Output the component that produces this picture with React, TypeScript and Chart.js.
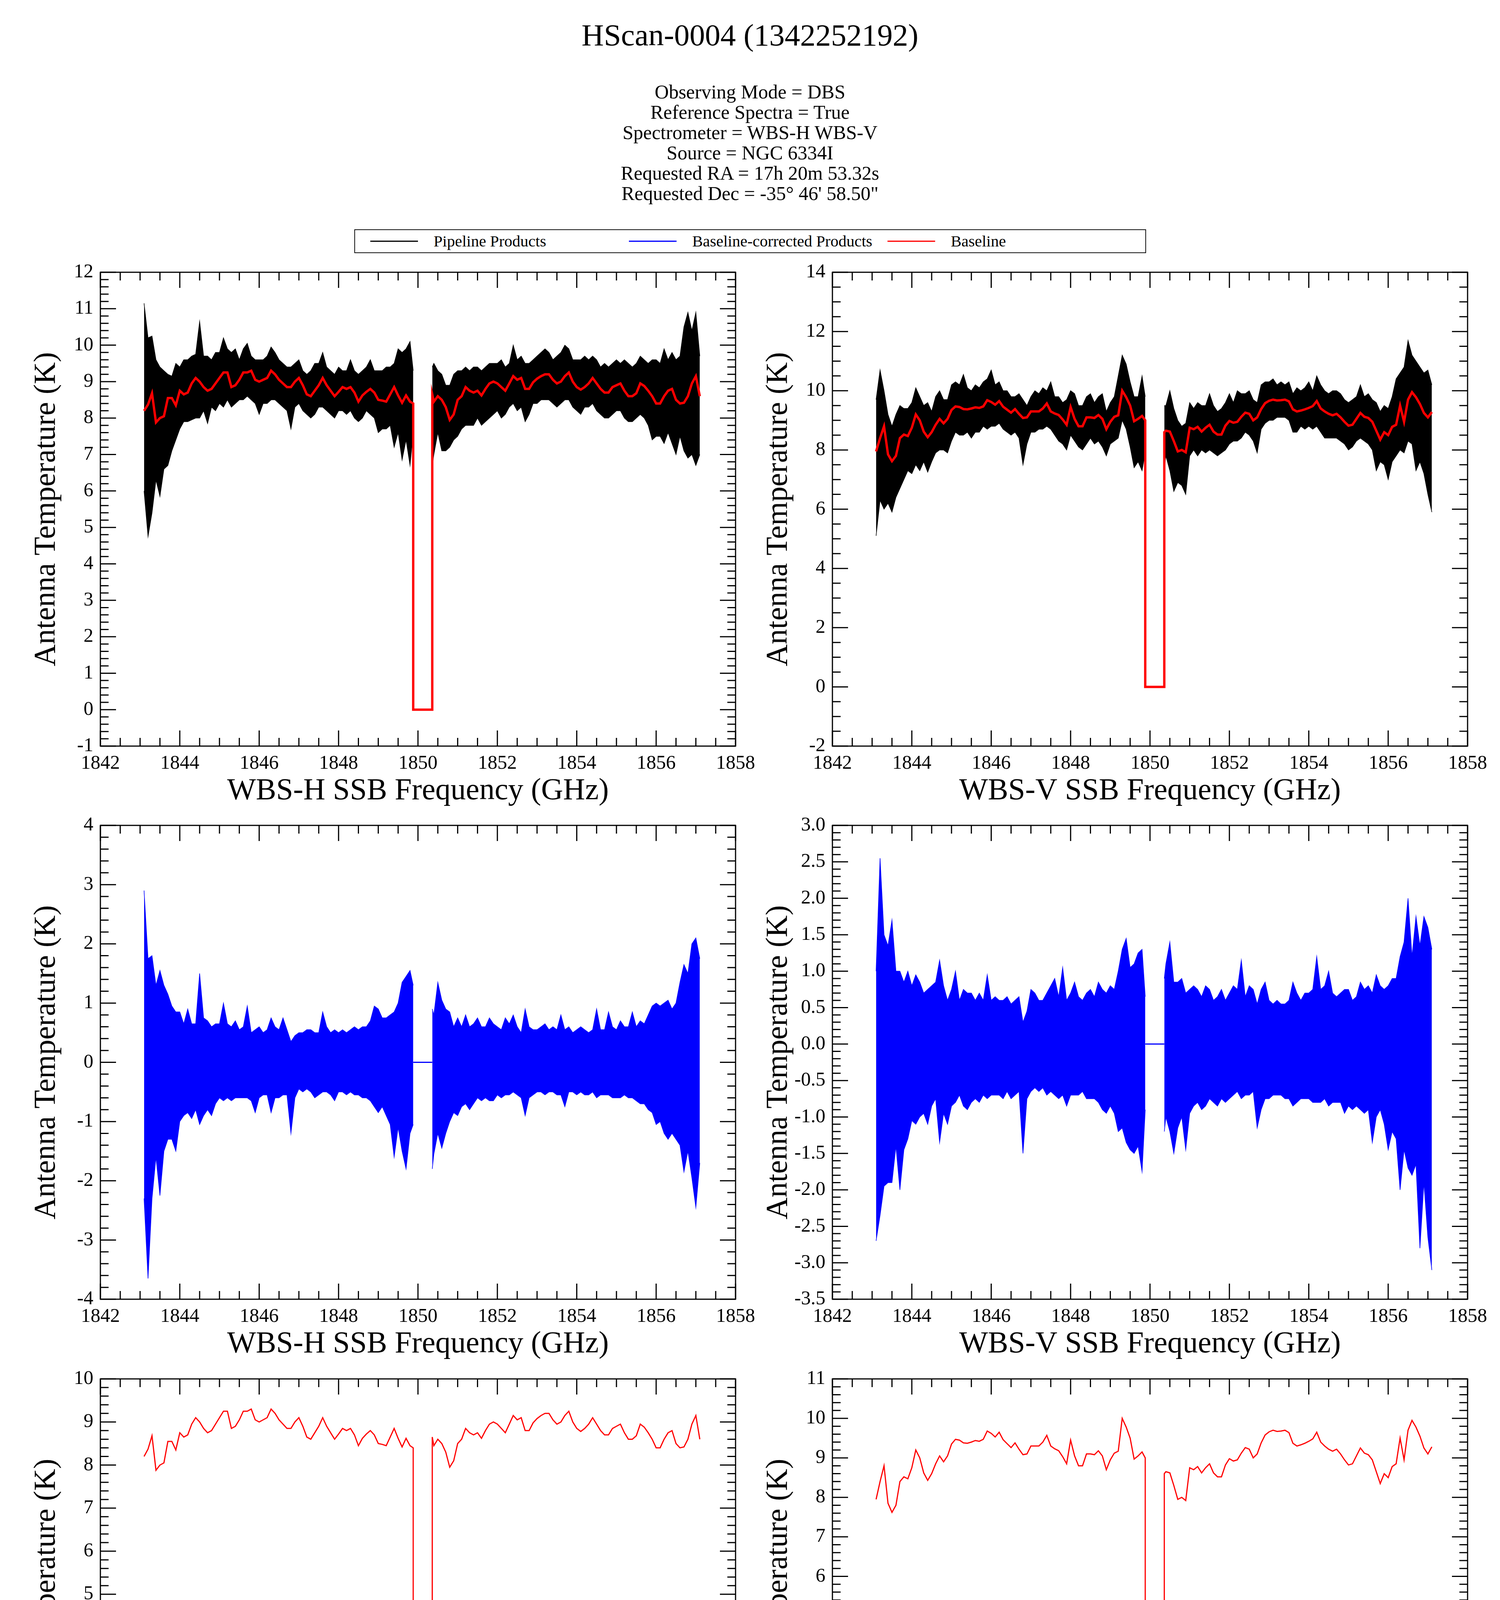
import React, { useEffect, useRef } from "react";
import { Chart, registerables } from "chart.js";
Chart.register(...registerables);

const FONT = "'Liberation Serif', 'Times New Roman', serif";

// ---------- data ----------
const FREQ_A = [
  1843.1, 1843.2, 1843.3, 1843.4, 1843.5, 1843.6, 1843.7, 1843.8, 1843.9,
  1844.0, 1844.1, 1844.2, 1844.3, 1844.4, 1844.5, 1844.6, 1844.7, 1844.8, 1844.9,
  1845.0, 1845.1, 1845.2, 1845.3, 1845.4, 1845.5, 1845.6, 1845.7, 1845.8, 1845.9,
  1846.0, 1846.1, 1846.2, 1846.3, 1846.4, 1846.5, 1846.6, 1846.7, 1846.8, 1846.9,
  1847.0, 1847.1, 1847.2, 1847.3, 1847.4, 1847.5, 1847.6, 1847.7, 1847.8, 1847.9,
  1848.0, 1848.1, 1848.2, 1848.3, 1848.4, 1848.5, 1848.6, 1848.7, 1848.8, 1848.9,
  1849.0, 1849.1, 1849.2, 1849.3, 1849.4, 1849.5, 1849.6, 1849.7, 1849.8, 1849.88,
];
const FREQ_B = [
  1850.36, 1850.4, 1850.5, 1850.6, 1850.7, 1850.8, 1850.9,
  1851.0, 1851.1, 1851.2, 1851.3, 1851.4, 1851.5, 1851.6, 1851.7, 1851.8, 1851.9,
  1852.0, 1852.1, 1852.2, 1852.3, 1852.4, 1852.5, 1852.6, 1852.7, 1852.8, 1852.9,
  1853.0, 1853.1, 1853.2, 1853.3, 1853.4, 1853.5, 1853.6, 1853.7, 1853.8, 1853.9,
  1854.0, 1854.1, 1854.2, 1854.3, 1854.4, 1854.5, 1854.6, 1854.7, 1854.8, 1854.9,
  1855.0, 1855.1, 1855.2, 1855.3, 1855.4, 1855.5, 1855.6, 1855.7, 1855.8, 1855.9,
  1856.0, 1856.1, 1856.2, 1856.3, 1856.4, 1856.5, 1856.6, 1856.7, 1856.8, 1856.9,
  1857.0, 1857.1,
];
const GAP_START = 1849.88;
const GAP_END = 1850.36;

// Baseline (red), WBS-H
const BASE_H_A = [
  8.2, 8.37, 8.68, 7.88, 8.0, 8.05, 8.55, 8.55, 8.35,
  8.75, 8.65, 8.7, 8.95, 9.1, 9.0, 8.85, 8.75, 8.8, 8.95,
  9.1, 9.25, 9.25, 8.85, 8.9, 9.05, 9.25, 9.25, 9.3, 9.05,
  9.0, 9.05, 9.1, 9.3, 9.2, 9.05, 8.95, 8.85, 8.85, 9.0,
  9.1, 8.9, 8.65, 8.6, 8.75, 8.9, 9.1, 8.9, 8.75, 8.6,
  8.72, 8.85, 8.8, 8.85, 8.7, 8.45, 8.62, 8.72, 8.8, 8.7,
  8.5, 8.48, 8.45, 8.65, 8.85, 8.62, 8.42, 8.62, 8.45, 8.4,
];
const BASE_H_B = [
  8.65, 8.45, 8.6, 8.5, 8.3, 7.95, 8.1,
  8.5, 8.6, 8.85, 8.75, 8.7, 8.75, 8.62, 8.8, 8.95, 9.0,
  8.95, 8.85, 8.75, 8.95, 9.15, 9.05, 9.1, 8.8, 8.8, 8.98,
  9.08, 9.15, 9.2, 9.2, 9.05, 8.95, 9.0, 9.15, 9.25, 9.0,
  8.85, 8.78, 8.85, 8.95, 9.1, 8.95, 8.8, 8.7, 8.7, 8.85,
  8.9, 8.95, 8.75, 8.6, 8.6, 8.68, 8.95, 8.88, 8.75, 8.6,
  8.4, 8.4, 8.6, 8.75, 8.8, 8.5, 8.4, 8.42, 8.6, 8.95,
  9.15, 8.6,
];
// Baseline (red), WBS-V
const BASE_V_A = [
  7.95, 8.4, 8.8, 7.85, 7.62, 7.8, 8.4, 8.52, 8.47,
  8.75, 9.2, 9.0, 8.62, 8.43, 8.6, 8.85, 9.05, 8.9, 9.05,
  9.35, 9.47, 9.45, 9.38, 9.37, 9.4, 9.44, 9.42, 9.47, 9.68,
  9.62, 9.53, 9.65, 9.46, 9.36, 9.26, 9.38, 9.22, 9.08, 9.1,
  9.3, 9.3, 9.3, 9.4, 9.57, 9.3, 9.23, 9.18, 9.03, 8.85,
  9.45, 9.05, 8.8, 8.8, 9.1, 9.1, 9.08, 9.18, 9.05, 8.7,
  8.95, 9.12, 9.17, 10.0, 9.78, 9.5, 8.97, 9.05, 9.15, 9.0,
];
const BASE_V_B = [
  8.6, 8.65, 8.62, 8.3, 7.95, 8.0, 7.92,
  8.75, 8.7, 8.78, 8.62, 8.75, 8.85, 8.62, 8.52, 8.52, 8.82,
  8.98, 8.92, 8.95, 9.12, 9.26, 9.22, 9.0, 9.1, 9.38, 9.58,
  9.66, 9.7, 9.67, 9.68, 9.7, 9.64, 9.37, 9.3, 9.33, 9.37,
  9.42, 9.48, 9.65, 9.4, 9.3, 9.22, 9.17, 9.22, 9.1, 8.95,
  8.82, 8.85, 9.05, 9.25, 9.12, 9.08, 8.95, 8.65, 8.35, 8.6,
  8.5, 8.78, 8.85, 9.5, 8.95, 9.7, 9.95, 9.78, 9.55, 9.25,
  9.1, 9.28,
];

// Pipeline products (black) envelope, WBS-H
const PIPE_H_HI_A = [
  11.15, 10.2, 10.25, 9.6, 9.4, 9.3, 9.2, 9.15, 9.5,
  9.4, 9.6, 9.6, 9.7, 9.75, 10.65, 9.7, 9.7, 9.6, 9.8,
  9.8, 10.2, 9.9, 9.8, 9.9, 9.6, 9.9, 10.05, 9.7, 9.6,
  9.6, 9.6, 9.7, 9.95, 9.8, 9.6, 9.5, 9.4, 9.4, 9.5,
  9.6, 9.3, 9.2, 9.3, 9.5, 9.5, 9.8, 9.4, 9.3, 9.2,
  9.4, 9.3, 9.3, 9.6, 9.3, 9.2, 9.3, 9.4, 9.6, 9.3,
  9.3, 9.3, 9.4, 9.4, 9.5, 9.9, 9.8, 9.9, 10.1, 9.3,
];
const PIPE_H_LO_A = [
  6.0, 4.75, 5.4, 6.3, 5.85, 6.6, 6.7, 7.1, 7.4,
  7.7, 7.9, 7.9, 7.95, 8.0, 8.0, 8.2, 7.85, 8.3, 8.2,
  8.4, 8.3, 8.5, 8.3, 8.4, 8.5, 8.5, 8.6, 8.5, 8.4,
  8.1, 8.4, 8.4, 8.5, 8.5, 8.4, 8.3, 8.2, 7.7, 8.3,
  8.4, 8.2, 8.1, 8.0, 8.1, 8.3, 8.3, 8.2, 8.1, 8.0,
  8.2, 8.2, 8.1, 8.2, 8.0, 7.9, 8.0, 8.2, 8.1, 8.0,
  7.6, 7.7, 7.7, 7.8, 7.2, 7.6, 6.85, 7.4, 6.7, 7.6,
];
const PIPE_H_HI_B = [
  9.4, 9.5, 9.3, 9.2, 8.9, 8.9, 9.2,
  9.3, 9.3, 9.4, 9.3, 9.4, 9.4, 9.3, 9.4, 9.5, 9.5,
  9.5, 9.6, 9.4, 9.5, 10.0, 9.6, 9.7, 9.5, 9.5, 9.6,
  9.7, 9.8, 9.9, 9.8, 9.6, 9.7, 9.8, 10.0, 9.9, 9.6,
  9.6, 9.6, 9.7, 9.6, 9.7, 9.6, 9.4, 9.5, 9.4, 9.5,
  9.6, 9.5, 9.6, 9.5, 9.4, 9.5, 9.7, 9.6, 9.5, 9.6,
  9.6, 9.5, 9.9, 9.6, 9.8, 9.6, 9.7, 10.5, 10.9, 10.4,
  10.9, 9.7,
];
const PIPE_H_LO_B = [
  6.7, 7.0, 7.6, 7.1, 7.1, 7.2, 7.4,
  7.5, 7.7, 7.8, 7.8, 7.8, 8.0, 7.8, 7.9, 8.0, 8.1,
  8.2, 8.0, 8.1, 8.3, 8.4, 8.2, 8.3, 7.9, 8.1, 8.4,
  8.4, 8.5, 8.5, 8.5, 8.4, 8.3, 8.4, 8.5, 8.5, 8.3,
  8.2, 8.1, 8.3, 8.3, 8.4, 8.2, 8.1, 8.0, 8.0, 8.1,
  8.2, 8.2, 8.0, 7.9, 7.9, 8.0, 8.1, 8.0, 7.8, 7.4,
  7.5, 7.5, 7.3, 7.6, 7.3, 7.0, 7.5, 7.1, 6.9, 7.0,
  6.7, 7.0,
];

// Pipeline products (black) envelope, WBS-V
const PIPE_V_HI_A = [
  9.7, 10.7, 10.0, 9.2, 8.8, 9.2, 9.5, 9.4, 9.4,
  9.6, 10.1, 9.8, 9.5, 9.6, 9.3, 9.8, 10.0, 9.7, 9.7,
  10.2, 10.3, 10.2, 10.55, 10.1, 10.0, 10.2, 10.1, 10.3, 10.4,
  10.7, 10.2, 10.3, 10.0, 10.0, 9.8, 9.8, 9.9, 9.7, 9.5,
  9.8, 10.0, 9.9, 10.1, 10.0, 10.3, 9.8, 9.8, 9.6, 9.7,
  10.0, 9.9, 9.5, 9.5, 9.8, 9.9, 9.6, 9.8, 9.9, 9.3,
  9.6, 9.8, 10.5, 11.2, 10.9, 10.3, 9.8, 9.8, 10.5, 9.8,
];
const PIPE_V_LO_A = [
  5.1, 6.3, 6.0, 6.2, 5.9, 6.4, 6.7, 7.0, 7.3,
  7.2, 7.5, 7.3, 7.6, 7.25, 7.6, 7.9, 8.0, 8.0, 7.9,
  8.3, 8.6, 8.5, 8.5, 8.6, 8.4, 8.6, 8.6, 8.8, 8.7,
  8.8, 8.8, 8.9, 8.7, 8.6, 8.5, 8.6, 8.4, 7.5, 8.2,
  8.6, 8.6, 8.7, 8.7, 8.8, 8.7, 8.5, 8.3, 8.2, 8.0,
  8.5, 8.3, 8.1, 8.0, 8.2, 8.4, 8.2, 8.3, 8.1, 7.8,
  8.2, 8.3, 8.4, 9.0, 8.7, 8.1, 7.4, 7.6, 7.3, 7.9,
];
const PIPE_V_HI_B = [
  9.5, 9.5, 10.0, 9.4, 9.0, 8.8, 8.9,
  9.6, 9.4, 9.6, 9.5, 9.5, 9.9, 9.5, 9.3, 9.4, 9.6,
  9.9, 9.6, 10.0, 9.9, 9.9, 10.0, 9.7, 9.6, 10.2, 10.3,
  10.3, 10.4, 10.2, 10.3, 10.2, 10.3, 9.9, 10.1, 10.0, 10.1,
  10.3, 10.0, 10.5, 10.2, 10.0, 9.9, 10.0, 10.0, 9.9, 9.7,
  9.6, 9.7, 9.8, 10.2, 9.8, 9.9, 9.7, 9.6, 9.3, 9.5,
  9.4, 9.8, 10.4, 10.6, 10.8, 11.7, 11.2, 11.0, 10.8, 10.6,
  10.7, 10.2,
];
const PIPE_V_LO_B = [
  7.4, 7.8, 7.3, 6.6, 6.9, 6.8, 6.5,
  7.8, 8.0, 7.8, 8.0, 7.9, 8.0, 7.9, 7.8, 7.9, 8.0,
  8.2, 8.3, 8.3, 8.4, 8.6, 8.5, 8.3, 7.9, 8.7, 8.9,
  9.0, 9.0, 9.1, 9.1, 9.1, 9.0, 8.6, 8.6, 8.8, 8.7,
  8.8, 8.7, 8.8, 8.6, 8.4, 8.4, 8.4, 8.4, 8.3, 8.2,
  8.0, 8.1, 8.3, 8.4, 8.3, 8.2, 8.0, 7.3, 7.6, 7.5,
  7.0, 7.6, 7.8, 8.0, 7.9, 8.3, 8.2, 7.3, 7.6, 7.2,
  6.5, 5.9,
];

// Baseline-corrected products (blue) envelope, WBS-H
const CORR_H_HI_A = [
  2.9, 1.75, 1.8, 1.3, 1.55, 1.3, 1.15, 0.95, 0.85,
  0.85, 0.65, 0.9, 0.65, 0.65, 1.5, 0.75, 0.7, 0.6, 0.65,
  0.65, 1.0, 0.65, 0.6, 0.7, 0.55, 0.6, 0.95, 0.5, 0.55,
  0.6, 0.5, 0.55, 0.75, 0.6, 0.55, 0.75, 0.55, 0.35, 0.45,
  0.5, 0.5, 0.55, 0.55, 0.5, 0.5, 0.85, 0.6, 0.5, 0.55,
  0.5, 0.55, 0.5, 0.55, 0.6, 0.55, 0.6, 0.6, 0.7, 0.95,
  0.9, 0.75, 0.75, 0.8, 0.85, 1.0, 1.35, 1.45, 1.55, 1.3,
];
const CORR_H_LO_A = [
  -2.3, -3.65, -2.3, -1.6, -2.25, -1.5, -1.3, -1.3, -1.5,
  -1.0, -0.9, -0.85, -0.95, -0.8, -1.05, -0.9, -0.8, -0.9, -0.7,
  -0.6, -0.65, -0.6, -0.65, -0.6, -0.6, -0.6, -0.6, -0.65, -0.85,
  -0.6, -0.55, -0.55, -0.85, -0.6, -0.6, -0.55, -0.55, -1.2, -0.6,
  -0.45, -0.5, -0.45, -0.5, -0.6, -0.55, -0.5, -0.5, -0.55, -0.65,
  -0.5, -0.5, -0.55, -0.5, -0.55, -0.55, -0.6, -0.6, -0.65, -0.75,
  -0.85, -0.75, -0.9, -1.05, -1.6, -1.1, -1.5, -1.8, -1.2, -1.05,
];
const CORR_H_HI_B = [
  0.9, 0.8, 1.35, 1.05, 0.9, 0.85, 0.6,
  0.75, 0.6, 0.8, 0.6, 0.65, 0.75, 0.6, 0.6, 0.75, 0.65,
  0.6, 0.55, 0.75, 0.65, 0.8, 0.6, 0.5, 0.9, 0.6, 0.55,
  0.55, 0.6, 0.65, 0.55, 0.6, 0.55, 0.8, 0.55, 0.6, 0.5,
  0.55, 0.6, 0.55, 0.5, 0.55, 0.9, 0.55, 0.55, 0.85, 0.6,
  0.55, 0.7, 0.6, 0.6, 0.85, 0.6, 0.7, 0.65, 0.8, 0.95,
  1.0, 0.95, 1.0, 1.05, 0.9, 1.0, 1.35, 1.65, 1.5, 2.0,
  2.1, 1.75,
];
const CORR_H_LO_B = [
  -1.8, -1.55, -1.2, -1.45, -1.2, -1.0, -0.85,
  -0.9, -0.75, -0.7, -0.8, -0.7, -0.6, -0.65, -0.6, -0.65, -0.65,
  -0.55, -0.6, -0.55, -0.55, -0.5, -0.55, -0.6, -0.9, -0.6, -0.55,
  -0.5, -0.5, -0.55, -0.5, -0.5, -0.55, -0.55, -0.75, -0.5, -0.5,
  -0.55, -0.5, -0.55, -0.55, -0.5, -0.6, -0.55, -0.55, -0.55, -0.6,
  -0.6, -0.6, -0.55, -0.6, -0.6, -0.65, -0.7, -0.7, -0.8, -0.85,
  -1.05, -1.0, -1.2, -1.3, -1.2, -1.3, -1.4, -1.85, -1.5, -1.95,
  -2.45, -1.7,
];

// Baseline-corrected products (blue) envelope, WBS-V
const CORR_V_HI_A = [
  1.0, 2.55, 1.5, 1.35, 1.7, 1.0, 1.0, 0.85, 1.0,
  0.8, 0.95, 0.85, 0.7, 0.75, 0.8, 0.85, 1.15, 0.8, 0.6,
  0.75, 1.0, 0.6, 0.75, 0.7, 0.7, 0.6, 0.7, 0.6, 0.95,
  0.6, 0.65, 0.6, 0.6, 0.65, 0.55, 0.6, 0.65, 0.3, 0.45,
  0.75, 0.7, 0.6, 0.6, 0.7, 0.8, 0.9, 0.65, 1.05, 0.6,
  0.7, 0.85, 0.65, 0.6, 0.7, 0.75, 0.65, 0.85, 0.75, 0.7,
  0.8, 0.75, 1.0, 1.3, 1.45, 1.05, 1.1, 1.25, 1.3, 0.65,
];
const CORR_V_LO_A = [
  -2.7, -2.35, -1.95, -1.9, -1.9, -1.4, -2.0, -1.45, -1.3,
  -1.05, -1.1, -1.0, -0.95, -1.1, -0.85, -0.75, -1.35, -0.95, -1.1,
  -0.85, -0.8, -0.7, -0.85, -0.9, -0.8, -0.75, -0.8, -0.7, -0.75,
  -0.7, -0.7, -0.7, -0.75, -0.65, -0.75, -0.7, -0.65, -1.5, -0.75,
  -0.65, -0.6, -0.65, -0.6, -0.7, -0.65, -0.7, -0.75, -0.7, -0.85,
  -0.7, -0.7, -0.7, -0.65, -0.75, -0.75, -0.75, -0.8, -0.9, -0.95,
  -0.85, -0.95, -1.2, -1.15, -1.35, -1.45, -1.5, -1.4, -1.75, -0.9,
];
const CORR_V_HI_B = [
  0.9, 1.1, 1.4, 0.85, 0.85, 0.9, 0.7,
  0.75, 0.8, 0.75, 0.65, 0.8, 0.75, 0.6, 0.65, 0.75, 0.6,
  0.7, 0.8, 0.75, 1.15, 0.65, 0.8, 0.75, 0.55, 0.75, 0.85,
  0.6, 0.55, 0.6, 0.55, 0.55, 0.6, 0.85, 0.7, 0.6, 0.7,
  0.7, 0.75, 1.2, 0.75, 0.8, 1.0, 0.7, 0.65, 0.7, 0.75,
  0.75, 0.6, 0.65, 0.85, 0.75, 0.8, 0.7, 0.95, 0.8, 0.75,
  0.8, 0.9, 0.9, 1.2, 1.4, 2.0, 1.2, 1.75, 1.35, 1.75,
  1.6, 1.3,
];
const CORR_V_LO_B = [
  -1.2, -1.0, -1.2, -1.5, -1.15, -1.0, -1.45,
  -0.95, -0.85, -0.8, -0.9, -0.85, -0.75, -0.8, -0.85, -0.75, -0.8,
  -0.75, -0.7, -0.65, -0.75, -0.7, -0.7, -0.65, -1.15, -0.9, -0.75,
  -0.75, -0.7, -0.7, -0.7, -0.75, -0.75, -0.85, -0.8, -0.75, -0.75,
  -0.75, -0.8, -0.8, -0.8, -0.75, -0.85, -0.8, -0.8, -0.8, -0.95,
  -0.85, -0.9, -0.85, -0.9, -0.95, -0.9, -1.35, -1.0, -0.9, -1.1,
  -1.45, -1.2, -1.3, -2.0, -1.45, -1.7, -1.8, -1.65, -2.8, -1.9,
  -2.65, -3.1,
];

const TITLE = "HScan-0004 (1342252192)";
const INFO_LINES = [
  "Observing Mode = DBS",
  "Reference Spectra = True",
  "Spectrometer = WBS-H WBS-V",
  "Source = NGC 6334I",
  "Requested RA = 17h 20m 53.32s",
  "Requested Dec = -35\u00b0 46' 58.50\"",
];
const LEGEND = [
  { label: "Pipeline Products", color: "#000000" },
  { label: "Baseline-corrected Products", color: "#0000ff" },
  { label: "Baseline", color: "#ff0000" },
];
const Y_TITLE = "Antenna Temperature (K)";
const X_TITLE_H = "WBS-H SSB Frequency (GHz)";
const X_TITLE_V = "WBS-V SSB Frequency (GHz)";

// ---------- helpers ----------
const pts = (xs: number[], ys: number[]) => xs.map((x, i) => ({ x, y: ys[i] }));

const baselineSeries = (a: number[], b: number[]) => [
  ...pts(FREQ_A, a),
  { x: GAP_START, y: 0 },
  { x: GAP_END, y: 0 },
  ...pts(FREQ_B, b),
];

const lineDs = (data: any[], color: string, width: number) => ({
  data,
  borderColor: color,
  borderWidth: width,
  pointRadius: 0,
  fill: false,
  tension: 0,
});

const bandDs = (hi: number[], lo: number[], xs: number[], color: string) => [
  { ...lineDs(pts(xs, hi), color, 1.5) },
  { ...lineDs(pts(xs, lo), color, 1.5), fill: "-1", backgroundColor: color },
];

const frameTicks = {
  id: "frameTicks",
  afterDraw(chart: any, _args: any, opts: any) {
    const { ctx, chartArea: a, scales } = chart;
    const xs = scales.x;
    const ys = scales.y;
    ctx.save();
    ctx.strokeStyle = "#000";
    ctx.lineWidth = 3;
    ctx.beginPath();
    const axis = (scale: any, major: number, minor: number, horiz: boolean) => {
      const n = Math.round((scale.max - scale.min) / minor);
      for (let i = 0; i <= n; i++) {
        const v = scale.min + i * minor;
        const r = v / major;
        const isMajor = Math.abs(r - Math.round(r)) < 1e-6;
        const len = isMajor ? 40 : 21;
        const p = scale.getPixelForValue(v);
        if (horiz) {
          ctx.moveTo(p, a.bottom);
          ctx.lineTo(p, a.bottom - len);
          ctx.moveTo(p, a.top);
          ctx.lineTo(p, a.top + len);
        } else {
          ctx.moveTo(a.left, p);
          ctx.lineTo(a.left + len, p);
          ctx.moveTo(a.right, p);
          ctx.lineTo(a.right - len, p);
        }
      }
    };
    axis(xs, opts.xMajor, opts.xMinor, true);
    axis(ys, opts.yMajor, opts.yMinor, false);
    ctx.stroke();
    ctx.strokeRect(a.left, a.top, a.right - a.left, a.bottom - a.top);
    ctx.restore();
  },
};

type PanelProps = {
  left: number;
  top: number;
  datasets: any[];
  yMin: number;
  yMax: number;
  yMajor: number;
  yMinor: number;
  yDecimals: number;
  xTitle: string;
};

const PLOT_W = 1626;
const PLOT_H = 1221;
const Y_AXIS_W = 257;
const X_AXIS_H = 170;
const PAD_TOP = 40;
const PAD_RIGHT = 70;

function Panel(p: PanelProps) {
  const ref = useRef<HTMLCanvasElement | null>(null);
  useEffect(() => {
    if (!ref.current) return;
    const chart = new Chart(ref.current, {
      type: "line",
      data: { datasets: p.datasets },
      options: {
        animation: false,
        responsive: false,
        devicePixelRatio: 1,
        layout: { padding: { top: PAD_TOP, right: PAD_RIGHT, bottom: 0, left: 0 } },
        plugins: {
          legend: { display: false },
          tooltip: { enabled: false },
          frameTicks: { xMajor: 2, xMinor: 0.5, yMajor: p.yMajor, yMinor: p.yMinor },
        } as any,
        scales: {
          x: {
            type: "linear",
            min: 1842,
            max: 1858,
            grid: { display: false, drawTicks: false },
            border: { display: false },
            ticks: {
              stepSize: 2,
              autoSkip: false,
              maxRotation: 0,
              padding: 15,
              color: "#000",
              font: { family: FONT, size: 50 },
              callback: (v: any) => String(Math.round(Number(v))),
            },
            title: {
              display: true,
              text: p.xTitle,
              color: "#000",
              font: { family: FONT, size: 78 },
              padding: { top: 0, bottom: 8 },
            },
            afterFit: (s: any) => {
              s.height = X_AXIS_H;
            },
          },
          y: {
            type: "linear",
            min: p.yMin,
            max: p.yMax,
            grid: { display: false, drawTicks: false },
            border: { display: false },
            ticks: {
              stepSize: p.yMajor,
              autoSkip: false,
              padding: 18,
              color: "#000",
              font: { family: FONT, size: 50 },
              callback: (v: any) => Number(v).toFixed(p.yDecimals),
            },
            title: {
              display: true,
              text: Y_TITLE,
              color: "#000",
              font: { family: FONT, size: 78 },
              padding: { top: 73, bottom: 0 },
            },
            afterFit: (s: any) => {
              s.width = Y_AXIS_W;
            },
          },
        },
      } as any,
      plugins: [frameTicks],
    });
    return () => chart.destroy();
  }, []);
  const w = Y_AXIS_W + PLOT_W + PAD_RIGHT;
  const h = PAD_TOP + PLOT_H + X_AXIS_H;
  return (
    <canvas
      ref={ref}
      width={w}
      height={h}
      style={{ position: "absolute", left: p.left, top: p.top, width: w, height: h }}
    />
  );
}

const COL_LEFT = [257, 2131];
const ROW_TOP = [689, 2105, 3522];

export default function App() {
  const redH = baselineSeries(BASE_H_A, BASE_H_B);
  const redV = baselineSeries(BASE_V_A, BASE_V_B);
  const zeroGap = [
    { x: GAP_START, y: 0 },
    { x: GAP_END, y: 0 },
  ];

  const panels: PanelProps[] = [
    {
      left: COL_LEFT[0] - Y_AXIS_W,
      top: ROW_TOP[0] - PAD_TOP,
      yMin: -1, yMax: 12, yMajor: 1, yMinor: 0.2, yDecimals: 0,
      xTitle: X_TITLE_H,
      datasets: [
        lineDs(redH, "#ff0000", 6),
        ...bandDs(PIPE_H_HI_A, PIPE_H_LO_A, FREQ_A, "#000000"),
        ...bandDs(PIPE_H_HI_B, PIPE_H_LO_B, FREQ_B, "#000000"),
      ],
    },
    {
      left: COL_LEFT[1] - Y_AXIS_W,
      top: ROW_TOP[0] - PAD_TOP,
      yMin: -2, yMax: 14, yMajor: 2, yMinor: 0.5, yDecimals: 0,
      xTitle: X_TITLE_V,
      datasets: [
        lineDs(redV, "#ff0000", 6),
        ...bandDs(PIPE_V_HI_A, PIPE_V_LO_A, FREQ_A, "#000000"),
        ...bandDs(PIPE_V_HI_B, PIPE_V_LO_B, FREQ_B, "#000000"),
      ],
    },
    {
      left: COL_LEFT[0] - Y_AXIS_W,
      top: ROW_TOP[1] - PAD_TOP,
      yMin: -4, yMax: 4, yMajor: 1, yMinor: 0.2, yDecimals: 0,
      xTitle: X_TITLE_H,
      datasets: [
        lineDs(zeroGap, "#0000ff", 3),
        ...bandDs(CORR_H_HI_A, CORR_H_LO_A, FREQ_A, "#0000ff"),
        ...bandDs(CORR_H_HI_B, CORR_H_LO_B, FREQ_B, "#0000ff"),
      ],
    },
    {
      left: COL_LEFT[1] - Y_AXIS_W,
      top: ROW_TOP[1] - PAD_TOP,
      yMin: -3.5, yMax: 3, yMajor: 0.5, yMinor: 0.1, yDecimals: 1,
      xTitle: X_TITLE_V,
      datasets: [
        lineDs(zeroGap, "#0000ff", 3),
        ...bandDs(CORR_V_HI_A, CORR_V_LO_A, FREQ_A, "#0000ff"),
        ...bandDs(CORR_V_HI_B, CORR_V_LO_B, FREQ_B, "#0000ff"),
      ],
    },
    {
      left: COL_LEFT[0] - Y_AXIS_W,
      top: ROW_TOP[2] - PAD_TOP,
      yMin: -1, yMax: 10, yMajor: 1, yMinor: 0.2, yDecimals: 0,
      xTitle: X_TITLE_H,
      datasets: [lineDs(redH, "#ff0000", 3)],
    },
    {
      left: COL_LEFT[1] - Y_AXIS_W,
      top: ROW_TOP[2] - PAD_TOP,
      yMin: -1, yMax: 11, yMajor: 1, yMinor: 0.2, yDecimals: 0,
      xTitle: X_TITLE_V,
      datasets: [lineDs(redV, "#ff0000", 3)],
    },
  ];

  const legendLeft = 907;
  const itemX = [948, 1610, 2272];

  return (
    <div
      style={{
        position: "absolute",
        left: 0,
        top: 0,
        width: 3840,
        height: 4980,
        background: "#fff",
        fontFamily: FONT,
        color: "#000",
        overflow: "hidden",
      }}
    >
      <div
        style={{
          position: "absolute",
          left: 0,
          top: 50,
          width: 3840,
          textAlign: "center",
          fontSize: 79,
          lineHeight: "79px",
          whiteSpace: "pre",
        }}
      >
        {TITLE}
      </div>
      <div
        style={{
          position: "absolute",
          left: 0,
          top: 209,
          width: 3840,
          textAlign: "center",
          fontSize: 50,
          lineHeight: "52px",
        }}
      >
        {INFO_LINES.map((l, i) => (
          <div key={i} style={{ whiteSpace: "pre" }}>
            {l}
          </div>
        ))}
      </div>
      <div
        style={{
          position: "absolute",
          left: legendLeft,
          top: 587,
          width: 2027,
          height: 61,
          border: "2px solid #111",
          boxSizing: "border-box",
        }}
      >
        {LEGEND.map((it, i) => (
          <React.Fragment key={i}>
            <div
              style={{
                position: "absolute",
                left: itemX[i] - legendLeft - 2,
                top: 30 - 2 - 1,
                width: 122,
                height: 3,
                background: it.color,
              }}
            />
            <div
              style={{
                position: "absolute",
                left: itemX[i] - legendLeft - 2 + 162,
                top: -2,
                height: 61,
                lineHeight: "61px",
                fontSize: 41,
                whiteSpace: "pre",
              }}
            >
              {it.label}
            </div>
          </React.Fragment>
        ))}
      </div>
      {panels.map((p, i) => (
        <Panel key={i} {...p} />
      ))}
    </div>
  );
}
